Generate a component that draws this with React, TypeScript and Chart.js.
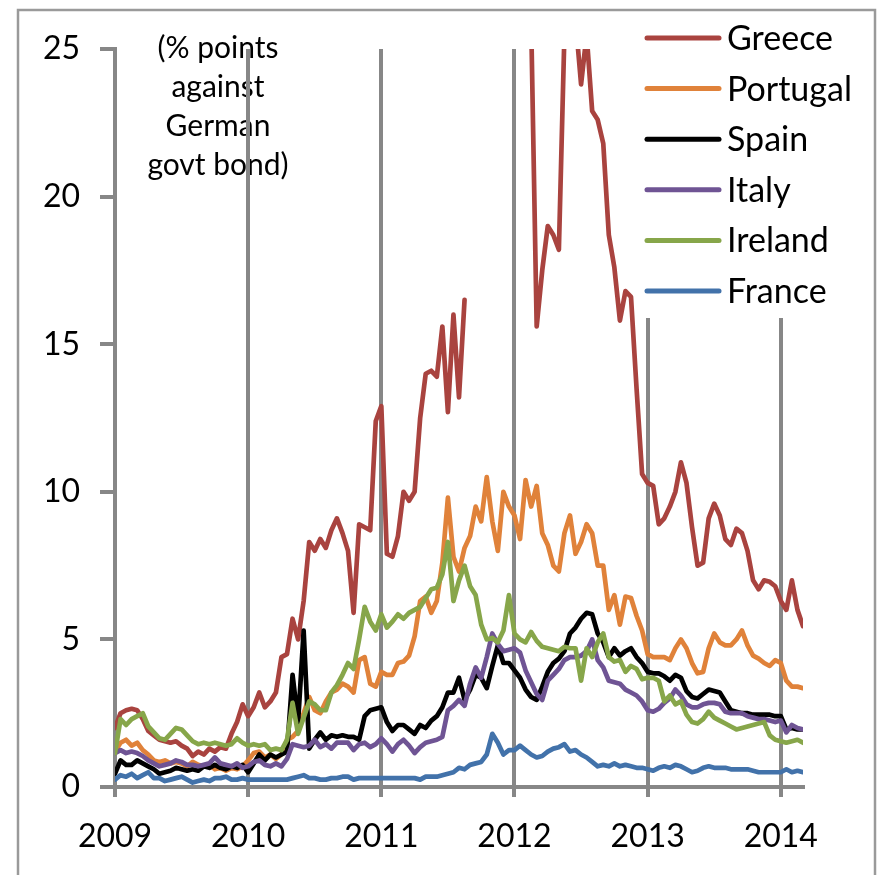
import React, { useEffect, useRef } from "react";
import { Chart, registerables } from "chart.js";

Chart.register(...registerables);

const FONT_FAMILY = "Lato, 'Open Sans', sans-serif";

const seriesNames = ["Greece", "Portugal", "Spain", "Italy", "Ireland", "France"];
const seriesColors = ["#A9433F", "#E0823A", "#000000", "#6F5494", "#87A64A", "#4272AA"];

// semi-monthly observations starting Jan 2009
const startYear = 2009;
const pointsPerYear = 24;

const greece = [
  2.0, 2.5, 2.6, 2.65, 2.6, 2.3, 1.9, 1.75, 1.6, 1.55, 1.5, 1.55,
  1.4, 1.3, 1.05, 1.2, 1.1, 1.3, 1.2, 1.35, 1.3, 1.8, 2.2, 2.8,
  2.4, 2.7, 3.2, 2.7, 2.9, 3.2, 4.4, 4.5, 5.7, 5.0, 6.3, 8.3,
  8.0, 8.4, 8.1, 8.7, 9.1, 8.6, 8.0, 5.9, 8.9, 8.8, 8.7, 12.4,
  12.9, 7.9, 7.8, 8.5, 10.0, 9.7, 10.0, 12.5, 14.0, 14.1, 13.9, 15.6,
  12.7, 16.0, 13.2, 16.5, null, null, null, null, null, null, null, null,
  null, null, null, 26, 15.6, 17.5, 19.0, 18.7, 18.2, 25.5, 28, 26,
  23.8, 25.5, 22.9, 22.6, 21.8, 18.7, 17.6, 15.8, 16.8, 16.6, 13.5, 10.6,
  10.3, 10.2, 8.9, 9.1, 9.5, 10.0, 11.0, 10.3, 8.8, 7.5, 7.6, 9.1,
  9.6, 9.2, 8.4, 8.2, 8.75, 8.6, 8.0, 7.0, 6.7, 7.0, 6.95, 6.8,
  6.3, 6.0, 7.0, 6.0, 5.45,
];

const portugal = [
  1.2, 1.5, 1.6, 1.4, 1.5, 1.25, 1.1, 0.9, 0.85, 0.9, 0.8, 0.85,
  0.8, 0.7, 0.85, 0.75, 0.7, 0.75, 0.6, 0.65, 0.55, 0.65, 0.6, 0.7,
  0.9, 1.15, 1.2, 1.0, 1.1, 0.95, 1.1, 1.6, 1.7, 1.9, 2.5, 3.05,
  2.6, 2.5, 2.9, 3.2, 3.3, 3.5, 3.4, 3.2, 4.3, 4.4, 3.5, 3.4,
  3.9, 3.8, 3.8, 4.2, 4.25, 4.45, 5.1, 6.3, 6.45, 5.9, 6.3, 7.6,
  9.8, 7.8, 7.3, 8.1, 8.5, 9.5, 9.0, 10.5, 9.0, 8.0, 10.0, 9.5,
  9.2, 8.4, 10.4, 9.5, 10.2, 8.6, 8.2, 7.5, 7.3, 8.6, 9.2, 7.9,
  8.3, 8.9, 8.6, 7.5, 7.5, 6.0, 6.5, 5.5, 6.45, 6.4, 5.8, 5.3,
  4.5, 4.4, 4.4, 4.4, 4.3, 4.7, 5.0, 4.7, 4.2, 3.85, 3.9, 4.7,
  5.2, 4.9, 4.8, 4.8, 5.0, 5.3, 4.8, 4.45, 4.35, 4.2, 4.1, 4.3,
  4.2, 3.6, 3.4, 3.4, 3.35,
];

const spain = [
  0.45, 0.9, 0.75, 0.75, 0.9, 0.8, 0.7, 0.6, 0.45, 0.5, 0.55, 0.65,
  0.6, 0.55, 0.6, 0.55, 0.7, 0.65, 0.75, 0.65, 0.6, 0.7, 0.65, 0.75,
  0.5, 0.8, 1.1, 0.9, 1.1, 1.0, 1.1, 1.2, 3.8, 2.2, 5.3, 1.3,
  1.6, 1.85, 1.6, 1.75, 1.7, 1.75, 1.7, 1.7, 1.6, 2.4, 2.6, 2.65,
  2.7, 2.2, 1.9, 2.1, 2.1, 1.95, 1.8, 2.1, 2.0, 2.25, 2.4, 2.7,
  3.2, 3.2, 3.7, 2.95, 3.3, 3.8, 3.7, 3.35, 4.1, 4.8, 4.2, 4.2,
  3.95, 3.7, 3.3, 3.05, 2.95, 3.4, 3.9, 4.2, 4.35, 4.6, 5.2, 5.4,
  5.7, 5.9, 5.85, 5.2, 4.9, 4.4, 4.7, 4.45, 4.6, 4.7, 4.4, 4.2,
  3.9, 3.85, 3.85, 3.75, 3.6, 3.8, 3.7, 3.25, 3.05, 3.0, 3.15, 3.3,
  3.25, 3.2, 2.9, 2.6, 2.55, 2.5, 2.5, 2.45, 2.45, 2.45, 2.45, 2.4,
  2.4, 1.95, 2.0, 1.95, 1.95,
];

const italy = [
  1.15, 1.25, 1.15, 1.2, 1.15, 1.05, 0.9, 0.8, 0.7, 0.75, 0.8, 0.9,
  0.85, 0.75, 0.75, 0.7, 0.75, 0.8, 1.0, 0.8, 0.75, 0.7, 0.8, 0.65,
  0.7, 0.85, 0.9, 0.75, 0.7, 0.8, 0.7, 0.95, 1.45, 1.4, 1.35, 1.4,
  1.6, 1.35, 1.45, 1.3, 1.5, 1.5, 1.5, 1.25, 1.45, 1.5, 1.35, 1.45,
  1.65, 1.45, 1.2, 1.45, 1.6, 1.4, 1.15, 1.35, 1.5, 1.55, 1.6, 1.7,
  2.6, 2.75, 2.95, 2.75, 3.5, 4.05, 3.7, 4.4, 5.2, 4.85, 4.6, 4.65,
  4.7, 4.55, 3.95, 3.55, 3.15, 2.95, 3.6, 3.8, 4.0, 4.3, 4.4, 4.4,
  4.45, 4.6, 5.0, 4.3, 4.05, 3.6, 3.55, 3.5, 3.3, 3.2, 3.1, 2.9,
  2.6, 2.55, 2.65, 2.85, 3.0, 3.3, 3.1, 2.8, 2.7, 2.7, 2.8, 2.85,
  2.85, 2.8, 2.55, 2.5, 2.5, 2.5, 2.4, 2.35, 2.3, 2.3, 2.25, 2.2,
  2.25, 1.85, 2.1, 2.0, 1.95,
];

const ireland = [
  1.15, 2.3, 2.1, 2.3, 2.4, 2.5, 2.05, 1.85, 1.65, 1.6, 1.8, 2.0,
  1.95, 1.75, 1.55, 1.45, 1.5, 1.45, 1.5, 1.45, 1.4, 1.45, 1.65, 1.5,
  1.4, 1.45, 1.4, 1.45, 1.25, 1.3, 1.25, 1.6, 2.85, 1.8, 2.35, 2.9,
  2.8, 2.6, 2.6, 3.2, 3.45, 3.8, 4.2, 4.0, 5.0, 6.1, 5.6, 5.3,
  5.85, 5.4, 5.6, 5.85, 5.7, 5.9, 6.0, 6.1, 6.4, 6.7, 6.75, 7.2,
  8.3, 6.3, 7.0, 7.5, 6.8, 6.5, 5.5, 5.0, 5.05, 4.9, 5.3, 6.5,
  5.2, 5.0, 4.9, 5.25, 4.95, 4.75, 4.7, 4.65, 4.6, 4.75, 4.7, 4.7,
  3.6, 4.7, 4.4, 4.9, 5.2, 4.4, 4.25, 4.3, 3.9, 4.1, 4.0, 3.65,
  3.7, 3.7, 3.6, 2.9, 3.1, 2.8, 2.9, 2.45, 2.2, 2.15, 2.3, 2.55,
  2.35, 2.25, 2.15, 2.05, 1.95, 2.0, 2.05, 2.1, 2.15, 2.2, 1.75, 1.6,
  1.55, 1.5, 1.55, 1.6, 1.5,
];

const france = [
  0.25, 0.4, 0.35, 0.45, 0.3, 0.4, 0.5, 0.3, 0.3, 0.2, 0.25, 0.3,
  0.35, 0.25, 0.15, 0.2, 0.25, 0.2, 0.3, 0.3, 0.35, 0.25, 0.25, 0.3,
  0.25, 0.25, 0.25, 0.25, 0.25, 0.25, 0.25, 0.25, 0.3, 0.35, 0.4, 0.3,
  0.3, 0.25, 0.25, 0.3, 0.3, 0.35, 0.35, 0.25, 0.3, 0.3, 0.3, 0.3,
  0.3, 0.3, 0.3, 0.3, 0.3, 0.3, 0.3, 0.25, 0.35, 0.35, 0.35, 0.4,
  0.45, 0.5, 0.65, 0.6, 0.75, 0.8, 0.85, 1.1, 1.8, 1.5, 1.1, 1.25,
  1.25, 1.4, 1.25, 1.1, 1.0, 1.05, 1.2, 1.3, 1.35, 1.45, 1.2, 1.25,
  1.1, 1.0, 0.85, 0.7, 0.75, 0.7, 0.8, 0.7, 0.75, 0.7, 0.65, 0.65,
  0.6, 0.55, 0.65, 0.7, 0.65, 0.75, 0.7, 0.6, 0.5, 0.55, 0.65, 0.7,
  0.65, 0.65, 0.65, 0.6, 0.6, 0.6, 0.6, 0.55, 0.5, 0.5, 0.5, 0.5,
  0.5, 0.6, 0.5, 0.55, 0.5,
];

const seriesValues = [greece, portugal, spain, italy, ireland, france];

const dates = greece.map((_, i) => startYear + i / pointsPerYear);

const yearTicks = [2009, 2010, 2011, 2012, 2013, 2014];
const yTicks = [0, 5, 10, 15, 20, 25];
const noteLines = ["(% points", "against", "German", "govt bond)"];

const GRID = "#878787";

export default function App() {
  const canvasRef = useRef<HTMLCanvasElement | null>(null);

  useEffect(() => {
    const canvas = canvasRef.current;
    if (!canvas) return;

    const framePlugin = {
      id: "frame",
      beforeDraw(chart: any) {
        const ctx = chart.ctx;
        ctx.save();
        ctx.fillStyle = "#ffffff";
        ctx.fillRect(0, 0, chart.width, chart.height);
        ctx.strokeStyle = "#9a9a9a";
        ctx.lineWidth = 2.5;
        ctx.beginPath();
        ctx.moveTo(18, chart.height + 5);
        ctx.lineTo(18, 10);
        ctx.lineTo(875, 10);
        ctx.lineTo(875, chart.height + 5);
        ctx.stroke();
        // note text
        ctx.fillStyle = "#000";
        ctx.font = `30px ${FONT_FAMILY}`;
        ctx.textAlign = "center";
        ctx.textBaseline = "middle";
        const noteX = 218;
        noteLines.forEach((t, k) => {
          ctx.fillText(t, noteX, 48 + k * 39);
        });
        ctx.restore();
      },
      beforeDatasetsDraw(chart: any) {
        const ctx = chart.ctx;
        ctx.save();
        ctx.fillStyle = "#ffffff";
        ctx.fillRect(638, 12, 234, 306);
        ctx.restore();
      },
      afterDatasetsDraw(chart: any) {
        const ctx = chart.ctx;
        ctx.save();
        ctx.font = `34px ${FONT_FAMILY}`;
        ctx.textAlign = "left";
        ctx.textBaseline = "middle";
        seriesNames.forEach((name, k) => {
          const y = 38 + k * 50.6;
          ctx.strokeStyle = seriesColors[k];
          ctx.lineWidth = 5;
          ctx.lineCap = "round";
          ctx.beginPath();
          ctx.moveTo(647, y);
          ctx.lineTo(719, y);
          ctx.stroke();
          ctx.fillStyle = "#000";
          ctx.fillText(name, 727, y + 1);
        });
        ctx.restore();
      },
    };

    const chart = new Chart(canvas, {
      type: "line",
      data: {
        datasets: seriesNames.map((name, k) => ({
          label: name,
          data: seriesValues[k].map((v, i) => ({ x: dates[i], y: v })),
          borderColor: seriesColors[k],
          backgroundColor: seriesColors[k],
          borderWidth: 4.7,
          pointRadius: 0,
          tension: 0,
          borderJoinStyle: "round" as const,
          borderCapStyle: "round" as const,
          spanGaps: false,
          order: seriesNames.length - k,
        })),
      },
      options: {
        responsive: false,
        animation: false,
        devicePixelRatio: 1,
        layout: { padding: { left: 0, top: 49, right: 78, bottom: 0 } },
        plugins: {
          legend: { display: false },
          tooltip: { enabled: false },
        },
        scales: {
          x: {
            type: "linear",
            min: startYear,
            max: dates[dates.length - 1],
            afterBuildTicks: (s: any) => {
              s.ticks = yearTicks.map((v) => ({ value: v }));
            },
            afterFit: (s: any) => {
              s.height = 88;
            },
            ticks: {
              autoSkip: false,
              maxRotation: 0,
              padding: 20,
              color: "#000",
              font: { family: FONT_FAMILY, size: 32 },
              callback: (v: any) => String(v),
            },
            grid: {
              color: GRID,
              lineWidth: 4,
              tickLength: 10,
              drawOnChartArea: true,
            },
            border: { display: true, color: GRID, width: 4 },
          },
          y: {
            type: "linear",
            min: 0,
            max: 25,
            afterBuildTicks: (s: any) => {
              s.ticks = yTicks.map((v) => ({ value: v }));
            },
            afterFit: (s: any) => {
              s.width = 115;
            },
            ticks: {
              padding: 20,
              color: "#000",
              font: { family: FONT_FAMILY, size: 32 },
            },
            grid: {
              color: GRID,
              lineWidth: 4,
              tickLength: 15,
              drawOnChartArea: false,
            },
            border: { display: true, color: GRID, width: 4 },
          },
        },
      },
      plugins: [framePlugin],
    });

    return () => chart.destroy();
  }, []);

  return (
    <div style={{ position: "fixed", left: 0, top: 0, width: 881, height: 875 }}>
      <canvas ref={canvasRef} width={881} height={875} style={{ width: 881, height: 875 }} />
    </div>
  );
}
